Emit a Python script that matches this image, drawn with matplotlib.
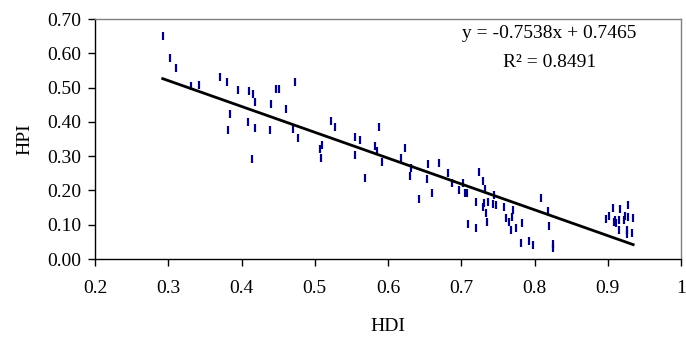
import matplotlib
matplotlib.use("Agg")
import matplotlib.pyplot as plt
import numpy as np

hdi = [0.2925, 0.303, 0.310, 0.331, 0.3415, 0.370, 0.3796, 0.3846, 0.381, 0.395,
       0.410, 0.416, 0.419, 0.409, 0.419, 0.414, 0.440, 0.4385, 0.447, 0.4507,
       0.461, 0.4735, 0.4698, 0.4766, 0.5065, 0.5098, 0.508, 0.5224, 0.5275, 0.555,
       0.5623, 0.555, 0.569, 0.588, 0.5827, 0.5846, 0.5918, 0.6177, 0.623, 0.6317,
       0.630, 0.642, 0.6544, 0.653, 0.6594, 0.6698, 0.682, 0.688, 0.6966, 0.703,
       0.705, 0.7085, 0.709, 0.7207, 0.7207, 0.7243, 0.7297, 0.733, 0.7297, 0.7315,
       0.7365, 0.7343, 0.735, 0.744, 0.745, 0.7474, 0.7582, 0.761, 0.7646, 0.7678,
       0.771, 0.7697, 0.7746, 0.782, 0.7832, 0.7922, 0.7973, 0.8095, 0.818, 0.820,
       0.8254, 0.8254, 0.898, 0.9016, 0.907, 0.9084, 0.9106, 0.910, 0.9147, 0.9157,
       0.9174, 0.9224, 0.924, 0.9274, 0.928, 0.926, 0.926, 0.9347, 0.933]
hpi = [0.650, 0.585, 0.556, 0.505, 0.507, 0.530, 0.517, 0.422, 0.376, 0.493,
       0.490, 0.481, 0.459, 0.399, 0.381, 0.291, 0.451, 0.376, 0.496, 0.496,
       0.437, 0.515, 0.379, 0.354, 0.321, 0.332, 0.295, 0.403, 0.384, 0.355,
       0.347, 0.302, 0.235, 0.384, 0.330, 0.315, 0.284, 0.294, 0.325, 0.264,
       0.242, 0.175, 0.276, 0.233, 0.193, 0.279, 0.250, 0.221, 0.201, 0.223,
       0.192, 0.193, 0.101, 0.167, 0.089, 0.255, 0.227, 0.204, 0.153, 0.162,
       0.165, 0.135, 0.109, 0.160, 0.187, 0.157, 0.153, 0.119, 0.109, 0.085,
       0.143, 0.123, 0.089, 0.046, 0.106, 0.053, 0.041, 0.179, 0.141, 0.096,
       0.043, 0.032, 0.116, 0.125, 0.148, 0.109, 0.104, 0.115, 0.085, 0.114,
       0.145, 0.114, 0.125, 0.157, 0.123, 0.085, 0.072, 0.119, 0.075]

slope = -0.7538
intercept = 0.7465
r2 = 0.8491

x_ticks = [0.2, 0.3, 0.4, 0.5, 0.6, 0.7, 0.8, 0.9, 1.0]
x_tick_labels = ["0.2", "0.3", "0.4", "0.5", "0.6", "0.7", "0.8", "0.9", "1"]
y_ticks = [0.0, 0.1, 0.2, 0.3, 0.4, 0.5, 0.6, 0.7]
y_tick_labels = ["0.00", "0.10", "0.20", "0.30", "0.40", "0.50", "0.60", "0.70"]

FS = 14
plt.rcParams['font.family'] = ['Liberation Serif', 'DejaVu Serif']
fig = plt.figure(figsize=(6.86, 3.39), dpi=100)
ax = fig.add_axes([95/686, 1 - 259/339, (681 - 95)/686, (259 - 19)/339])

ax.plot(hdi, hpi, linestyle='none', marker='|', markersize=5.5, markeredgewidth=1.6,
        color='#000080', zorder=3)

xs = np.array([min(hdi), max(hdi)])
ax.plot(xs, slope * xs + intercept, color='black', linewidth=2, zorder=4)

ax.set_xlim(0.2, 1.0)
ax.set_ylim(0.0, 0.7)
ax.set_xticks(x_ticks)
ax.set_xticklabels(x_tick_labels)
ax.set_yticks(y_ticks)
ax.set_yticklabels(y_tick_labels)
ax.tick_params(axis='both', direction='out', length=5, width=1, labelsize=FS, colors='black')
ax.tick_params(axis='x', pad=10)
ax.tick_params(axis='y', pad=5)

for s in ['top', 'right']:
    ax.spines[s].set_color('#808080')
    ax.spines[s].set_linewidth(1)
for s in ['left', 'bottom']:
    ax.spines[s].set_color('black')
    ax.spines[s].set_linewidth(1)

ax.set_xlabel("HDI", fontsize=FS, labelpad=15)
ax.set_ylabel("HPI", fontsize=FS, labelpad=10)

ax.text(0.8204, 0.659, f"y = {slope:.4f}x + {intercept:.4f}", fontsize=FS,
        ha='center', va='center')
ax.text(0.8204, 0.572, f"R\u00b2 = {r2:.4f}", fontsize=FS, ha='center', va='center')

fig.savefig("out.png", dpi=100)
